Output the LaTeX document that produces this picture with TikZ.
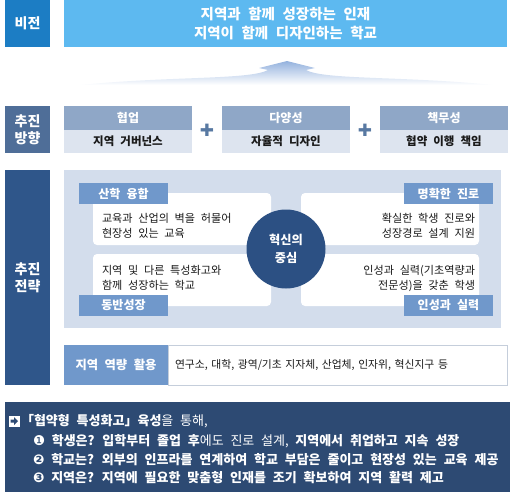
\documentclass[tikz,border=0pt]{standalone}
\usepackage{fontspec}
\setmainfont{Noto Sans CJK KR}[WordSpace=2.3]
\newfontfamily\symfont{DejaVu Sans}
\usetikzlibrary{positioning, calc, backgrounds}

\definecolor{visdark}{HTML}{1C7DC4}
\definecolor{visbar}{HTML}{5DB9F0}
\definecolor{dirside}{HTML}{4F6E98}
\definecolor{dirhead}{HTML}{8FA7C7}
\definecolor{dirbody}{HTML}{DDE4EF}
\definecolor{strside}{HTML}{2F568A}
\definecolor{panelc}{HTML}{D3DDEC}
\definecolor{tagc}{HTML}{7098CB}
\definecolor{corec}{HTML}{2C5083}
\definecolor{summary}{HTML}{2D4A73}
\definecolor{plusc}{HTML}{5879A2}
\definecolor{ink}{HTML}{1A1A1A}
\definecolor{edgec}{HTML}{C5CEDB}
\definecolor{arrowc}{HTML}{94B2DE}

\newcommand{\numsym}[1]{{\symfont\fontsize{13.5}{14}\selectfont #1}}

\begin{document}
\begin{tikzpicture}[
    x=1pt, y=-1pt,
    every node/.style={inner sep=0pt, outer sep=0pt},
    sidebox/.style={rectangle, anchor=north west, minimum width=45pt, text=white, align=center, font=\fontsize{14}{17}\selectfont\bfseries},
    headbox/.style={rectangle, fill=dirhead, minimum width=128pt, minimum height=24pt, text=white, font=\fontsize{12}{14}\selectfont\bfseries},
    bodybox/.style={rectangle, fill=dirbody, minimum width=128pt, minimum height=23pt, text=ink, font=\fontsize{11.5}{14}\selectfont\bfseries},
    cardbox/.style={rectangle, fill=white, rounded corners=4pt, anchor=north west, minimum width=178pt, minimum height=52pt},
    tagbox/.style={rectangle, fill=tagc, anchor=north west, minimum width=89pt, minimum height=21pt, text=white, font=\fontsize{12}{14}\selectfont\bfseries},
    cardtext/.style={text=ink, font=\fontsize{11.1}{15}\selectfont},
    plussign/.style={text=plusc, font=\symfont\bfseries\fontsize{17}{17}\selectfont},
    sumline/.style={anchor=west, text=white, font=\fontsize{13}{14}\selectfont}
  ]
  \useasboundingbox (0,0) rectangle (512,498);

  % ============ VISION ============
  \node[sidebox, fill=visdark, minimum height=47pt] (vis) at (5,0) {비전};
  \node[rectangle, fill=visbar, anchor=north west, minimum width=443pt, minimum height=47pt,
        text=white, align=center, font=\fontsize{14.5}{19}\selectfont\bfseries] (visbar) at (64,0)
        {지역과 함께 성장하는 인재\\지역이 함께 디자인하는 학교};

  % rising arrow
  \shade[top color=arrowc, bottom color=white]
    (80,85) .. controls (170,76) and (250,80) .. (268,70) -- (259,68) -- (287,61)
    -- (315,68) -- (306,70) .. controls (324,80) and (404,76) .. (493,85) -- cycle;

  % ============ DIRECTIONS ============
  \node[sidebox, fill=dirside, minimum height=47pt] (dir) at (5,106) {추진\\방향};

  \node[headbox, anchor=north west] (coop) at (64,106) {협업};
  \node[bodybox, below=0pt of coop] (coopb) {지역 거버넌스};
  \node[headbox, right=30pt of coop] (divs) {다양성};
  \node[bodybox, below=0pt of divs] (divsb) {자율적 디자인};
  \node[headbox, right=30pt of divs] (resp) {책무성};
  \node[bodybox, below=0pt of resp] (respb) {협약 이행 책임};

  \node[plussign] (plus1) at ($(coop.south east)!0.5!(divs.south west)$) {✚};
  \node[plussign] (plus2) at ($(divs.south east)!0.5!(resp.south west)$) {✚};

  % ============ STRATEGIES ============
  \node[sidebox, fill=strside, minimum height=215pt] (strat) at (5,170) {추진\\전략};
  \node[rectangle, fill=panelc, anchor=north west, minimum width=437pt, minimum height=158pt] (panel) at (64,170) {};

  \node[cardbox] (cardlt) at (93,193) {};
  \node[cardbox] (cardlb) at (93,254) {};
  \node[cardbox] (cardrt) at (301,193) {};
  \node[cardbox] (cardrb) at (301,254) {};

  \node[cardtext, anchor=west, align=left] (txtlt) at ($(cardlt.west)+(9,7)$) {교육과 산업의 벽을 허물어\\현장성 있는 교육};
  \node[cardtext, anchor=west, align=left] (txtlb) at ($(cardlb.west)+(9,-2)$) {지역 및 다른 특성화고와\\함께 성장하는 학교};
  \node[cardtext, anchor=east, align=right] (txtrt) at ($(cardrt.east)+(-4,7)$) {확실한 학생 진로와\\성장경로 설계 지원};
  \node[cardtext, anchor=east, align=right] (txtrb) at ($(cardrb.east)+(-4,-2)$) {인성과 실력(기초역량과\\전문성)을 갖춘 학생};

  \node[tagbox] (tagfuse) at (79,183) {산학 융합};
  \node[tagbox] (tagpeer) at (79,295) {동반성장};
  \node[tagbox] (tagcareer) at (404,183) {명확한 진로};
  \node[tagbox] (tagskill) at (404,295) {인성과 실력};

  \node[circle, fill=corec, minimum size=79pt, text=white, align=center,
        font=\fontsize{12.2}{18}\selectfont\bfseries] (core) at (286,249) {혁신의\\중심};

  % regional resources
  \node[tagbox, minimum width=104pt, minimum height=40pt, font=\fontsize{12.3}{14}\selectfont\bfseries] (region) at (64,345) {지역 역량 활용};
  \node[rectangle, draw=edgec, fill=white, right=0pt of region, minimum height=40pt,
        inner xsep=7pt, text width=325pt, align=left, text=ink, font=\fontsize{10.8}{14}\selectfont] (partners)
        {연구소, 대학, 광역/기초 지자체, 산업체, 인자위, 혁신지구 등};

  % ============ SUMMARY ============
  \node[rectangle, fill=summary, anchor=north west, minimum width=505pt, minimum height=90pt] (sumbox) at (5,402) {};
  \node[rectangle, fill=white, minimum size=11pt] (icon) at (14,421) {};
  \fill[summary] ($(icon.center)+(-3.5,-1.5)$) -- ++(3.5,0) -- ++(0,-2.5) -- ++(4,4)
    -- ++(-4,4) -- ++(0,-2.5) -- ++(-3.5,0) -- cycle;
  \node[sumline] (sum0) at (21,421) {{\bfseries 「협약형 특성화고」육성}을 통해,};
  \node[sumline] (sum1) at (33,441) {\numsym{❶} {\bfseries 학생은? 입학부터 졸업 후}에도 진로 설계, {\bfseries 지역에서 취업하고 지속 성장}};
  \node[sumline] (sum2) at (33,460) {\bfseries \numsym{❷} 학교는? 외부의 인프라를 연계하여 학교 부담은 줄이고 현장성 있는 교육 제공};
  \node[sumline] (sum3) at (33,478) {\bfseries \numsym{❸} 지역은? 지역에 필요한 맞춤형 인재를 조기 확보하여 지역 활력 제고};

\end{tikzpicture}
\end{document}
